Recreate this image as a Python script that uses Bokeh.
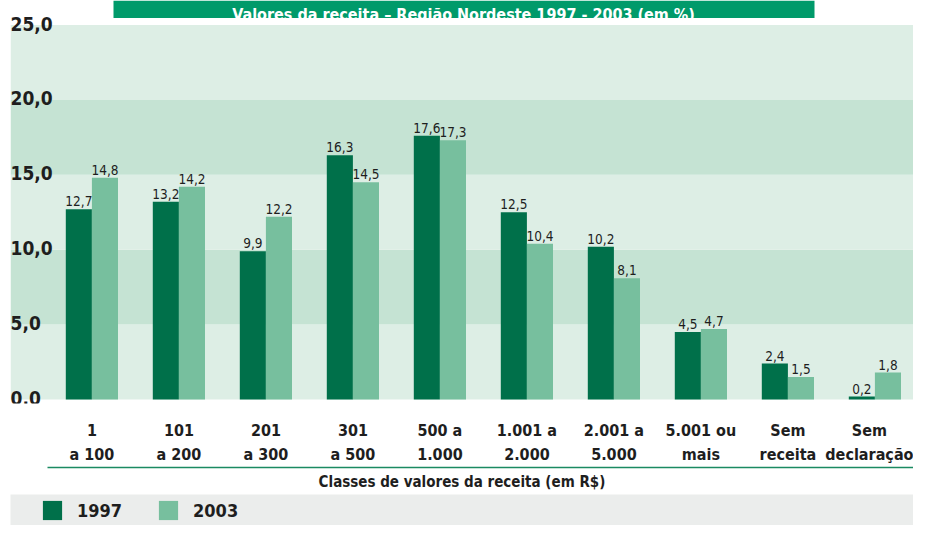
import numpy as np
from bokeh.plotting import figure
from bokeh.models import (Range1d, LinearAxis, FixedTicker, ColumnDataSource,
                          Legend, LegendItem)
from bokeh.layouts import column
from bokeh.core.properties import value
from bokeh.embed import file_html
from bokeh.resources import INLINE

# ---------------- data ----------------
categories = ["1\na 100", "101\na 200", "201\na 300", "301\na 500", "500 a\n1.000",
              "1.001 a\n2.000", "2.001 a\n5.000", "5.001 ou\nmais", "Sem\nreceita",
              "Sem\ndeclaração"]
v1997 = [12.7, 13.2, 9.9, 16.3, 17.6, 12.5, 10.2, 4.5, 2.4, 0.2]
v2003 = [14.8, 14.2, 12.2, 14.5, 17.3, 10.4, 8.1, 4.7, 1.5, 1.8]
series = ["1997", "2003"]
y_ticks = [0, 5, 10, 15, 20, 25]
y_tick_labels = ["0,0", "5,0", "10,0", "15,0", "20,0", "25,0"]
title_text = "Valores da receita – Região Nordeste 1997 - 2003 (em %)"
x_axis_title = "Classes de valores da receita (em R$)"

# ---------------- style ----------------
FONT = "'DejaVu Sans Condensed', 'Liberation Sans Narrow', sans-serif"
C1997 = "#00704A"
C2003 = "#77BF9E"
BAND_LIGHT = "#DDEEE5"
BAND_DARK = "#C5E3D3"
TITLE_BG = "#009A6A"
AXIS_GREEN = "#1B8A62"
LEGEND_BG = "#EBEDEC"
TXT = "#1E1E1E"

W, HA, HB = 913, 494, 31
FL, FR, FB = 10, 913, 91          # frame left, right (px), bottom border
frame_h = HA - FB                 # 403
zero_px = 399                     # canvas row of value 0
spacing = 87.0                    # px per category
first_center = 91.4
x_start = -(first_center - FL) / spacing
x_end = x_start + (FR - FL) / spacing
px_per_unit = 14.98
y_end = zero_px / px_per_unit
y_start = -(frame_h - zero_px) / px_per_unit

def px2x(px):
    return x_start + (px - FL) / spacing

def px2y(py):
    return (zero_px - py) / px_per_unit

n = len(categories)
xs = np.arange(n)
half = 0.15
src = ColumnDataSource(dict(
    x1=xs - half, x2=xs + half, v1=v1997, v2=v2003,
    t1=[f"{v:.1f}".replace(".", ",") for v in v1997],
    t2=[f"{v:.1f}".replace(".", ",") for v in v2003],
))

p = figure(width=W, height=HA, x_range=Range1d(x_start, x_end),
           y_range=Range1d(y_start, y_end), output_backend="svg",
           toolbar_location=None, x_axis_type=None, y_axis_type=None,
           min_border=0, min_border_left=FL, min_border_right=0,
           min_border_top=0, min_border_bottom=FB,
           outline_line_color=None, background_fill_color="white",
           border_fill_color="white")
p.xgrid.visible = False
p.ygrid.visible = False
p.extra_x_ranges = {"px": Range1d(FL, FR)}

# background bands
band_src = ColumnDataSource(dict(
    bottom=y_ticks[:-1], top=y_ticks[1:],
    color=[BAND_LIGHT if i % 2 == 0 else BAND_DARK for i in range(len(y_ticks) - 1)],
))
p.quad(left=x_start, right=x_end, bottom="bottom", top="top", fill_color="color",
       line_color=None, source=band_src)

# title box
p.quad(left=px2x(113), right=px2x(814), bottom=px2y(17.5), top=y_end,
       fill_color=TITLE_BG, line_color=None)
p.text(x=[px2x(463)], y=[px2y(14)], text=[title_text], text_align="center",
       text_baseline="alphabetic", text_color="white", text_font=value(FONT),
       text_font_style="bold", text_font_size="16px")

# bars
p.vbar(x="x1", top="v1", width=2 * half, bottom=0, fill_color=C1997,
       line_color=None, source=src)
p.vbar(x="x2", top="v2", width=2 * half, bottom=0, fill_color=C2003,
       line_color=None, source=src)

# value labels
for xc, vc, tc in (("x1", "v1", "t1"), ("x2", "v2", "t2")):
    p.text(x=xc, y=vc, text=tc, source=src,
           text_align="center", text_baseline="alphabetic", y_offset=-8,
           text_color=TXT, text_font=value(FONT), text_font_size="13.5px")

# y tick labels (inside frame, above gridlines)
p.text(x=[x_start] * len(y_ticks), y=y_ticks, text=y_tick_labels,
       text_align="left", text_baseline="alphabetic", y_offset=-1.5,
       text_color=TXT, text_font=value(FONT), text_font_style="bold",
       text_font_size="19px")

# category axis
ax1 = LinearAxis(ticker=FixedTicker(ticks=list(xs)),
                 major_label_overrides={int(i): c for i, c in zip(xs, categories)},
                 axis_line_color=None, major_tick_line_color=None,
                 minor_tick_line_color=None, major_tick_out=0, major_tick_in=0,
                 major_label_standoff=17,
                 major_label_text_font=FONT, major_label_text_font_style="bold",
                 major_label_text_font_size="16px", major_label_text_color=TXT,
                 major_label_text_line_height=1.3)
p.add_layout(ax1, "below")

# line + axis title
ax2 = LinearAxis(x_range_name="px", ticker=FixedTicker(ticks=[]),
                 bounds=(47, FR), axis_line_color=AXIS_GREEN, axis_line_width=1.6,
                 major_tick_line_color=None, minor_tick_line_color=None,
                 major_tick_out=0, major_tick_in=0, major_label_standoff=0,
                 axis_label=x_axis_title, axis_label_standoff=5,
                 axis_label_text_font=FONT, axis_label_text_font_style="bold",
                 axis_label_text_font_size="15px", axis_label_text_color=TXT)
p.add_layout(ax2, "below")

# legend strip
p2 = figure(width=W, height=HB, x_range=Range1d(0, 1), y_range=Range1d(0, 1),
            output_backend="svg", toolbar_location=None, x_axis_type=None,
            y_axis_type=None, min_border=0, min_border_left=FL, min_border_right=0,
            outline_line_color=None, background_fill_color=LEGEND_BG,
            border_fill_color="white")
p2.xgrid.visible = False
p2.ygrid.visible = False
r1 = p2.vbar(x=[5], top=[1], width=0.1, fill_color=C1997, line_color=None)
r2 = p2.vbar(x=[5], top=[1], width=0.1, fill_color=C2003, line_color=None)
legend = Legend(items=[LegendItem(label=series[0], renderers=[r1]),
                       LegendItem(label=series[1], renderers=[r2])],
                orientation="horizontal", location=(30, 3), margin=0, padding=0,
                spacing=34, glyph_width=24, glyph_height=24, label_height=24,
                label_standoff=13, label_text_font=FONT,
                label_text_font_style="bold", label_text_font_size="18px",
                label_text_color=TXT, background_fill_alpha=0,
                border_line_color=None)
p2.add_layout(legend)

layout = column(p, p2, spacing=0)
open("out.html", "w").write(file_html(layout, INLINE))
